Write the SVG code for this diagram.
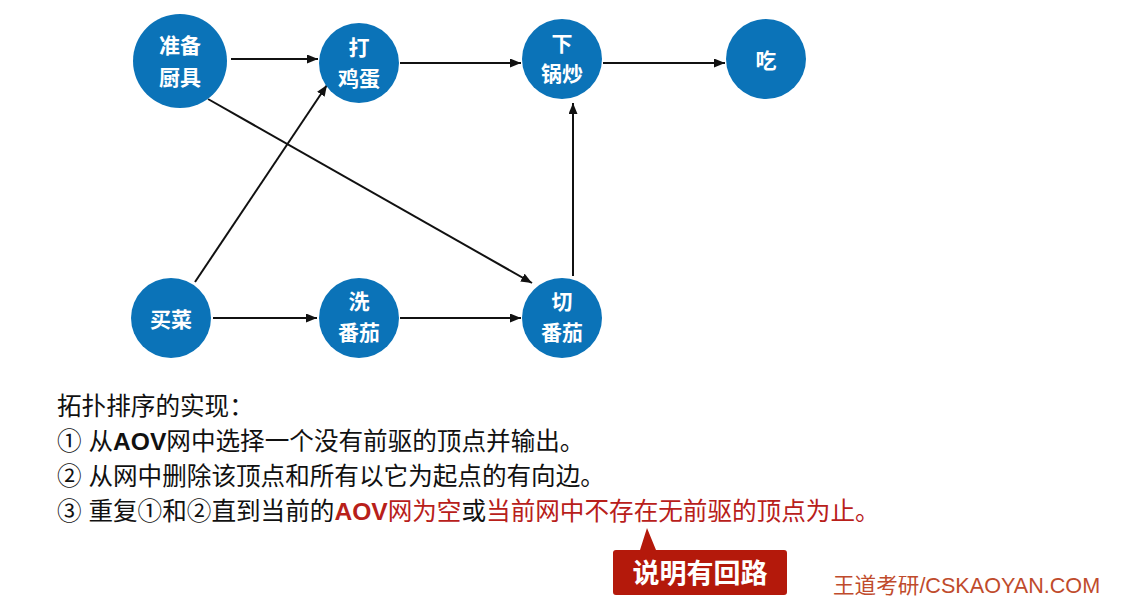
<svg xmlns="http://www.w3.org/2000/svg" width="1121" height="606" viewBox="0 0 1121 606">
<style>
.node circle{fill:#0B73B8}
.node text{fill:#fff;font-family:"Liberation Sans","Noto Sans CJK SC",sans-serif;font-weight:bold;font-size:21px;text-anchor:middle}
.edge{stroke:#111;stroke-width:2;fill:none;marker-end:url(#arr)}
.body{font-family:"Liberation Sans","Noto Sans CJK SC",sans-serif;font-size:24.6px;fill:#111}
.b{font-weight:bold}
.red{fill:#B8201A}
</style>
<defs>
<marker id="arr" markerUnits="userSpaceOnUse" markerWidth="12" markerHeight="10" refX="11" refY="4.5" orient="auto">
<path d="M0,0 L11,4.5 L0,9 z" fill="#111"/>
</marker>
</defs>
<rect width="1121" height="606" fill="#fff"/>
<g id="connectors">
<line class="edge" x1="231" y1="59" x2="318" y2="59"/>
<line class="edge" x1="400" y1="63" x2="521" y2="63"/>
<line class="edge" x1="603" y1="63" x2="725" y2="63"/>
<line class="edge" x1="208" y1="99" x2="532" y2="283"/>
<line class="edge" x1="195" y1="282" x2="327" y2="85"/>
<line class="edge" x1="213" y1="318" x2="317" y2="318"/>
<line class="edge" x1="400" y1="318" x2="521" y2="318"/>
<line class="edge" x1="573" y1="276" x2="573" y2="103"/>
</g>
<g id="n-zhunbei" class="node"><circle cx="180" cy="61" r="47"/><text x="180" y="52.5">准备</text><text x="180" y="84.5">厨具</text></g>
<g id="n-dajidan" class="node"><circle cx="359" cy="63" r="40"/><text x="359" y="55">打</text><text x="359" y="86">鸡蛋</text></g>
<g id="n-xiaguochao" class="node"><circle cx="562" cy="59" r="40"/><text x="562" y="51">下</text><text x="562" y="81">锅炒</text></g>
<g id="n-chi" class="node"><circle cx="766" cy="59" r="40"/><text x="766" y="68">吃</text></g>
<g id="n-maicai" class="node"><circle cx="171" cy="318" r="40"/><text x="171" y="327">买菜</text></g>
<g id="n-xifanqie" class="node"><circle cx="359" cy="318" r="40"/><text x="359" y="309">洗</text><text x="359" y="340">番茄</text></g>
<g id="n-qiefanqie" class="node"><circle cx="562" cy="318" r="40"/><text x="562" y="309">切</text><text x="562" y="340">番茄</text></g>
<g id="text-block">
<text class="body" x="57" y="415">拓扑排序的实现：</text>
<text class="body" x="57" y="450">① 从<tspan class="b">AOV</tspan>网中选择一个没有前驱的顶点并输出。</text>
<text class="body" x="57" y="485">② 从网中删除该顶点和所有以它为起点的有向边。</text>
<text class="body" x="57" y="520">③ 重复①和②直到当前的<tspan class="b red">AOV</tspan><tspan class="red">网为空</tspan>或<tspan class="red">当前网中不存在无前驱的顶点为止。</tspan></text>
</g>
<g id="callout">
<path d="M616,550 L640,550 L647,528 L656,550 L784,550 Q787,550 787,553 L787,592 Q787,595 784,595 L616,595 Q613,595 613,592 L613,553 Q613,550 616,550 z" fill="#B4190B"/>
<text x="700" y="583" text-anchor="middle" font-family="Liberation Sans,'Noto Sans CJK SC',sans-serif" font-weight="bold" font-size="27" fill="#fff">说明有回路</text>
</g>
<text x="833" y="593" font-family="Liberation Sans,'Noto Sans CJK SC',sans-serif" font-size="21.6" fill="#BF4B2C">王道考研/CSKAOYAN.COM</text>
</svg>
